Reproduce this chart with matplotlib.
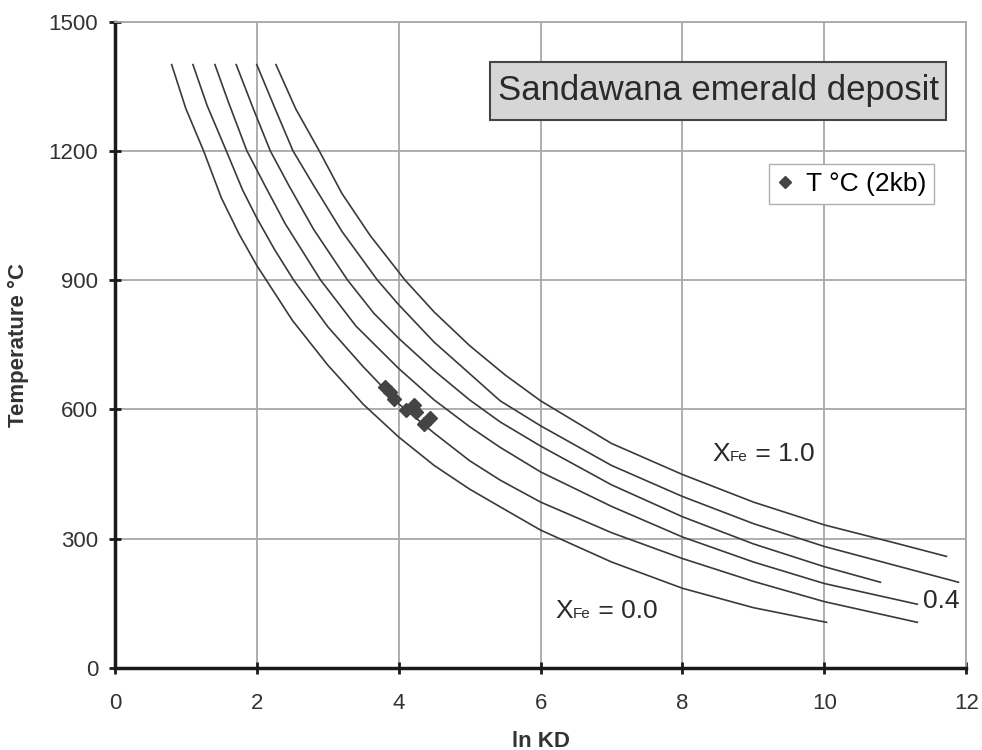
import matplotlib
matplotlib.use("Agg")
import matplotlib.pyplot as plt
from matplotlib.patches import Rectangle
from matplotlib.offsetbox import TextArea, HPacker, AnnotationBbox

plt.rcParams['font.family'] = ['Liberation Sans Narrow', 'Liberation Sans', 'DejaVu Sans']

# Isopleths of ln KD vs temperature for different XFe
lnkd_xfe00 = [0.80, 1.00, 1.25, 1.50, 1.75, 2.00, 2.50, 3.00, 3.50, 4.00, 4.50,
              5.00, 5.43, 6.00, 7.00, 8.00, 9.00, 10.03]
temp_xfe00 = [1400, 1298, 1200, 1091, 1007, 934, 807, 703, 612, 536, 470,
              415, 374, 320, 246, 185, 140, 106]

lnkd_xfe02 = [1.10, 1.30, 1.57, 1.80, 2.00, 2.25, 2.52, 3.00, 3.50, 4.00, 4.50,
              5.00, 5.43, 6.00, 7.00, 8.00, 9.00, 10.00, 11.31]
temp_xfe02 = [1400, 1305, 1200, 1109, 1044, 971, 900, 792, 699, 613, 545,
              481, 436, 385, 314, 254, 201, 154, 106]

lnkd_xfe04 = [1.41, 1.60, 1.86, 2.10, 2.40, 2.90, 3.40, 4.00, 4.50, 5.00, 5.43,
              6.00, 7.00, 8.00, 9.00, 10.00, 11.31]
temp_xfe04 = [1400, 1313, 1200, 1124, 1031, 900, 793, 695, 622, 560, 512,
              455, 375, 304, 246, 196, 148]

lnkd_xfe06 = [1.71, 1.95, 2.19, 2.45, 2.80, 3.28, 3.65, 4.00, 4.50, 5.00, 5.43,
              6.00, 7.00, 8.00, 9.00, 10.00, 10.79]
temp_xfe06 = [1400, 1298, 1200, 1120, 1018, 900, 823, 765, 690, 622, 571,
              515, 425, 351, 288, 235, 199]

lnkd_xfe08 = [2.00, 2.25, 2.51, 2.80, 3.20, 3.70, 4.00, 4.50, 5.00, 5.43, 6.00,
              7.00, 8.00, 9.00, 10.00, 11.00, 11.89]
temp_xfe08 = [1400, 1301, 1200, 1120, 1013, 900, 843, 756, 683, 620, 562,
              470, 398, 335, 282, 238, 199]

lnkd_xfe10 = [2.27, 2.55, 2.88, 3.20, 3.60, 4.09, 4.50, 5.00, 5.50, 6.00, 7.00,
              8.00, 9.00, 10.00, 11.00, 11.72]
temp_xfe10 = [1400, 1297, 1200, 1101, 1003, 900, 826, 748, 680, 620, 521,
              449, 385, 332, 290, 259]

# Sandawana samples (T at 2 kbar)
sample_lnkd = [3.81, 3.88, 3.93, 4.11, 4.21, 4.25, 4.35, 4.44]
sample_temp = [652, 641, 625, 598, 610, 594, 567, 579]

x_ticks = [0, 2, 4, 6, 8, 10, 12]
y_ticks = [0, 300, 600, 900, 1200, 1500]

fig = plt.figure(figsize=(9.82, 7.5), dpi=100)
ax = fig.add_axes([0.117, 0.1093, 0.867, 0.862])

curve_color = '#3a3a3a'
for xs, ts in [(lnkd_xfe00, temp_xfe00), (lnkd_xfe02, temp_xfe02),
               (lnkd_xfe04, temp_xfe04), (lnkd_xfe06, temp_xfe06),
               (lnkd_xfe08, temp_xfe08), (lnkd_xfe10, temp_xfe10)]:
    ax.plot(xs, ts, color=curve_color, lw=1.2, zorder=3, solid_joinstyle='round')

ax.plot(sample_lnkd, sample_temp, linestyle='none', marker='D', ms=7,
        color='#444444', zorder=4, label='T °C (2kb)')

ax.set_xlim(0, 12)
ax.set_ylim(0, 1500)
ax.set_xticks(x_ticks)
ax.set_yticks(y_ticks)
ax.grid(True, color='#a8a8a8', lw=1.3, zorder=0)
ax.set_axisbelow(True)

for side in ('top', 'right'):
    ax.spines[side].set_color('#a8a8a8')
    ax.spines[side].set_linewidth(1.3)
for side in ('left', 'bottom'):
    ax.spines[side].set_color('#1a1a1a')
    ax.spines[side].set_linewidth(2.5)

ax.tick_params(axis='both', direction='inout', length=8, width=2,
               color='#1a1a1a', labelsize=16, labelcolor='#333333')
ax.tick_params(axis='x', pad=14)
ax.tick_params(axis='y', pad=8)

ax.set_xlabel('ln KD', fontsize=16, fontweight='bold', color='#333333', labelpad=12)
ax.set_ylabel('Temperature °C', fontsize=16, fontweight='bold', color='#333333', labelpad=14)

# Title box
ax.add_patch(Rectangle((0.4407, 0.848), 0.5358, 0.0895, transform=ax.transAxes,
                       facecolor='#d6d6d6', edgecolor='#444444', lw=1.5, zorder=5))
ax.text(0.7086, 0.8926, 'Sandawana emerald deposit', transform=ax.transAxes,
        ha='center', va='center', fontsize=25, color='#2a2a2a', zorder=6,
        family='Liberation Sans')

leg = ax.legend(loc='upper left', bbox_to_anchor=(0.7685, 0.7797), borderaxespad=0,
                fancybox=False, framealpha=1, edgecolor='#b0b0b0', handlelength=0.6,
                handletextpad=0.5, borderpad=0.3,
                prop={'family': 'Liberation Sans', 'size': 19})
leg.get_frame().set_linewidth(1.0)
for h in leg.legend_handles:
    h.set_markersize(6)


def xfe_label(x, y, value):
    parts = [TextArea('X', textprops=dict(size=19, color='#2a2a2a', family='Liberation Sans')),
             TextArea('Fe', textprops=dict(size=11, color='#2a2a2a', family='Liberation Sans')),
             TextArea(' = ' + value, textprops=dict(size=19, color='#2a2a2a', family='Liberation Sans'))]
    box = HPacker(children=parts, align='baseline', pad=0, sep=0)
    ab = AnnotationBbox(box, (x, y), xycoords='data', frameon=False,
                        box_alignment=(0.5, 0.5), zorder=6)
    ax.add_artist(ab)


xfe_label(9.14, 497, '1.0')
xfe_label(6.93, 132, '0.0')
ax.text(11.65, 156, '0.4', fontsize=19, color='#2a2a2a', ha='center', va='center',
        family='Liberation Sans')

fig.savefig('out.png', dpi=100)
